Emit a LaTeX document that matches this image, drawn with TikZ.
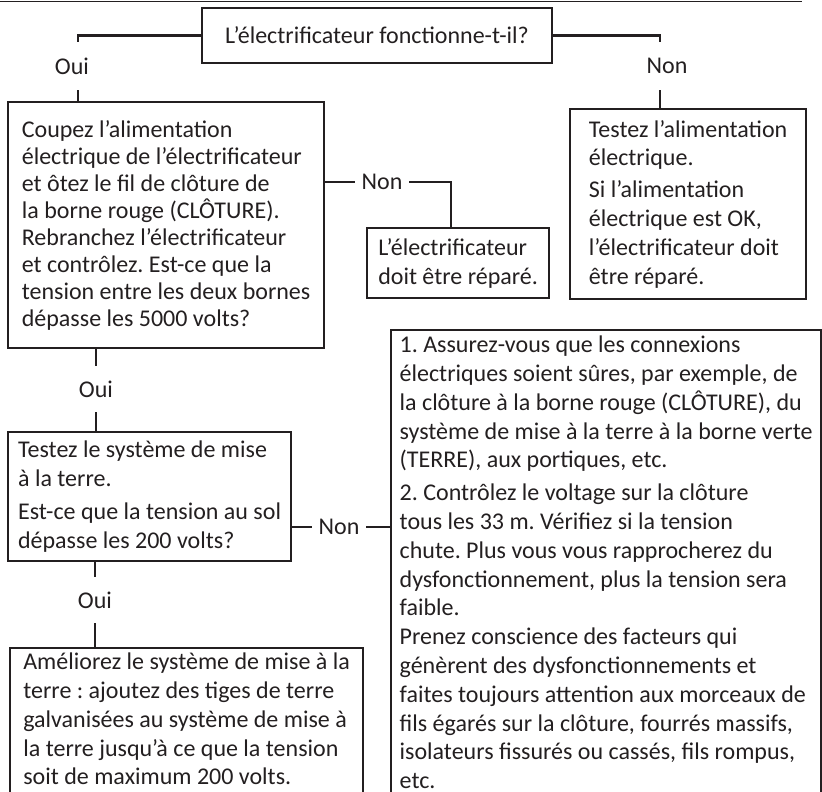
\documentclass[tikz,border=0pt]{standalone}
\usepackage{fontspec}
\setmainfont{Carlito}
\definecolor{ink}{RGB}{35,31,32}
\frenchspacing

\begin{document}
\begin{tikzpicture}[x=1pt,y=-1pt,
  box/.style={draw=ink, line width=2.2pt, text=ink, inner sep=0pt, align=left,
    font=\fontsize{24}{28.8}\selectfont},
  lbl/.style={text=ink, inner xsep=6.5pt, inner ysep=0pt, font=\fontsize{24}{28.8}\selectfont},
  link/.style={draw=ink, line width=2.2pt}]
\useasboundingbox (0,0) rectangle (822,792);
\clip (0,0) rectangle (822,792);

\draw[ink, line width=1.5pt] (0,1.5) -- (802,1.5);

\node[box, align=center, minimum width=350pt, minimum height=55pt] (q1) at (377,35.5) {L’électrificateur fonctionne-t-il?};

\node[lbl, minimum height=48pt] (oui1) at (72,66) {Oui};
\node[lbl, minimum height=48pt] (non1) at (667,66) {Non};

\node[box, anchor=north west, minimum width=316pt, minimum height=246pt,
  font=\fontsize{24}{27}\selectfont] (c1) at (7,101)
  {Coupez l’alimentation\\
   électrique de l’électrificateur\\
   et ôtez le fil de clôture de\\
   la borne rouge (CLÔTURE).\\
   Rebranchez l’électrificateur\\
   et contrôlez. Est-ce que la\\
   tension entre les deux bornes\\
   dépasse les 5000 volts?};

\node[box, anchor=north west, minimum width=236pt, minimum height=190pt] (r2) at (569,108)
  {Testez l’alimentation\\
   électrique.\\[3pt]
   Si l’alimentation\\
   électrique est OK,\\
   l’électrificateur doit\\
   être réparé.};

\node[lbl] (non2) at (382,182) {Non};
\node[box, anchor=north west, minimum width=182pt, minimum height=70pt] (r1) at (366,227)
  {L’électrificateur\\
   doit être réparé.};

\node[lbl, minimum height=46pt] (oui2) at (96,389) {Oui};

\node[box, anchor=north west, minimum width=283pt, minimum height=129pt] (t1) at (7,431)
  {Testez le système de mise\\
   à la terre.\\[4pt]
   Est-ce que la tension au sol\\
   dépasse les 200 volts?};

\node[lbl] (non3) at (339,527) {Non};

\node[box, anchor=north west, minimum width=430pt, inner ysep=6pt] (b1) at (390,329)
  {1. Assurez-vous que les connexions\\
   électriques soient sûres, par exemple, de\\
   la clôture à la borne rouge (CLÔTURE), du\\
   système de mise à la terre à la borne verte\\
   (TERRE), aux portiques, etc.\\[4pt]
   2. Contrôlez le voltage sur la clôture\\
   tous les 33 m. Vérifiez si la tension\\
   chute. Plus vous vous rapprocherez du\\
   dysfonctionnement, plus la tension sera\\
   faible.\\
   Prenez conscience des facteurs qui\\
   génèrent des dysfonctionnements et\\
   faites toujours attention aux morceaux de\\
   fils égarés sur la clôture, fourrés massifs,\\
   isolateurs fissurés ou cassés, fils rompus,\\
   etc.\rule[-12pt]{0pt}{0pt}};

\node[lbl, minimum height=46pt] (oui3) at (95,600) {Oui};

\node[box, anchor=north west, minimum width=353pt, inner ysep=5pt] (a1) at (9,647)
  {Améliorez le système de mise à la\\
   terre : ajoutez des tiges de terre\\
   galvanisées au système de mise à\\
   la terre jusqu’à ce que la tension\\
   soit de maximum 200 volts.\rule[-14pt]{0pt}{0pt}};

\draw[link] (q1.west) -| ([xshift=6pt]oui1.north);
\draw[link] ([xshift=6pt]oui1.south) -- ([xshift=6pt]oui1.south |- c1.north);
\draw[link] (q1.east) -| ([xshift=-7pt]non1.north);
\draw[link] ([xshift=-7pt]non1.south) -- ([xshift=-7pt]non1.south |- r2.north);
\draw[link] (non2.west -| c1.east) -- (non2.west);
\draw[link] (non2.east) -| ([xshift=-7pt]r1.north);
\draw[link] (oui2.north |- c1.south) -- (oui2.north);
\draw[link] (oui2.south) -- (oui2.south |- t1.north);
\draw[link] (non3.west -| t1.east) -- (non3.west);
\draw[link] (non3.east) -- (non3.east -| b1.west);
\draw[link] (oui3.north |- t1.south) -- (oui3.north);
\draw[link] (oui3.south) -- (oui3.south |- a1.north);
\end{tikzpicture}
\end{document}
